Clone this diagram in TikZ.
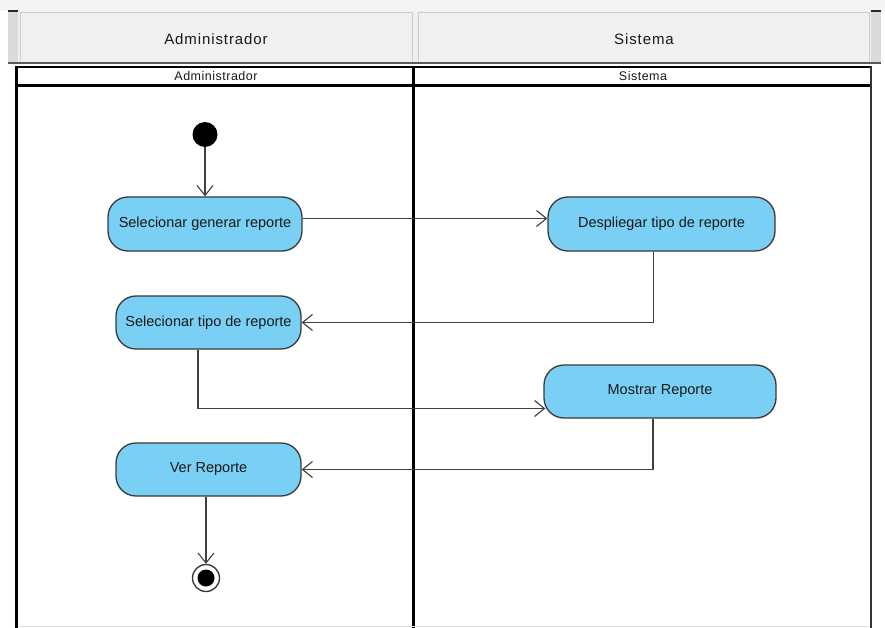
\documentclass[tikz,border=0pt]{standalone}
\usepackage{fontspec}
\setmainfont{Liberation Sans}
\newfontfamily\hdrfont[LetterSpace=6]{Liberation Sans}
\newfontfamily\lblfont[LetterSpace=4]{Liberation Sans}
\usetikzlibrary{arrows.meta}
\definecolor{actfill}{RGB}{122,207,244}
\definecolor{actline}{RGB}{58,58,58}
\definecolor{flowline}{RGB}{64,64,64}
\definecolor{hdrbg}{RGB}{240,240,240}
\definecolor{hdrtop}{RGB}{245,245,245}
\definecolor{hdrside}{RGB}{218,218,218}
\definecolor{hdrcell}{RGB}{205,205,205}
\tikzset{
  act/.style={draw=actline, fill=actfill, line width=1.3pt, rounded corners=20pt,
    inner sep=0pt, minimum height=54pt, text=black!90,
    font=\fontsize{14.5}{16}\selectfont},
  flow/.style={draw=flowline, line width=1.2pt,
    -{Straight Barb[length=10pt,width=16pt,line width=1.1pt]}},
  lane/.style={draw=black, line width=3pt},
  hdrtext/.style={font=\hdrfont\fontsize{15}{17}\selectfont, text=black!90},
  lbltext/.style={font=\lblfont\fontsize{12.5}{14}\selectfont, text=black!90}
}
\begin{document}
\begin{tikzpicture}[x=1pt,y=-1pt]
\useasboundingbox (0,0) rectangle (885,628);

% header band
\fill[hdrtop] (0,0) rectangle (885,11);
\fill[hdrbg] (8,11) rectangle (881,64);
\fill[hdrside] (8,11) rectangle (18,63);
\fill[hdrside] (871,11) rectangle (881,63);
\draw[black!85, line width=1.5pt] (8,11) -- (18,11);
\draw[black!85, line width=1.5pt] (871,11) -- (881,11);
\draw[black!65, line width=1.5pt] (8,63) -- (881,63);
\draw[hdrcell, line width=1pt] (20,62) -- (20,13) -- (412,13) -- (412,62);
\draw[hdrcell, line width=1pt] (418,62) -- (418,13) -- (869,13) -- (869,62);
\node[hdrtext] (hA) at (216,39) {Administrador};
\node[hdrtext] (hS) at (644,39) {Sistema};

% swimlanes
\fill[white] (16,66) rectangle (871,628);
\draw[black, line width=1.6pt] (16,67) -- (871,67);
\draw[lane] (16,86) -- (871,86);
\draw[lane] (16,66) -- (16,628);
\draw[lane] (413,66) -- (413,628);
\draw[black!80, line width=2.4pt] (871,66) -- (871,628);
\draw[black!12, line width=1pt] (18,626.5) -- (869,626.5);
\node[lbltext] (lA) at (216,76) {Administrador};
\node[lbltext] (lS) at (643,76) {Sistema};

% activities
\fill[black] (205,134.5) circle (12.5);
\coordinate (init) at (205,147);
\node[act, minimum width=194pt] (gen) at (205,224) {Selecionar generar reporte};
\node[act, minimum width=227pt] (desp) at (661.5,224) {Despliegar tipo de reporte};
\node[act, minimum width=185pt, minimum height=53pt] (tipo) at (208.5,322.5) {Selecionar tipo de reporte};
\node[act, minimum width=232pt, minimum height=53pt] (most) at (660,391.5) {Mostrar Reporte};
\node[act, minimum width=185pt, minimum height=53pt] (ver) at (208.5,469.5) {Ver Reporte};

% final node
\node[circle, draw=black!80, fill=white, line width=1.3pt, minimum size=27pt, inner sep=0pt] (fin) at (206,578) {};
\fill[black] (fin.center) circle (8.5);

% control flows
\draw[flow] (init) -- (gen.north -| init);
\draw[flow] ([yshift=5.5pt]gen.east) -- ([yshift=5.5pt]desp.west);
\draw[flow] ([xshift=-8pt]desp.south) |- (tipo.east);
\draw[flow] ([xshift=-10.5pt]tipo.south) |- ([xshift=2pt,yshift=-17pt]most.west);
\draw[flow] ([xshift=-7pt]most.south) |- (ver.east);
\draw[flow] (ver.south -| fin) -- (fin.north);
\end{tikzpicture}
\end{document}
